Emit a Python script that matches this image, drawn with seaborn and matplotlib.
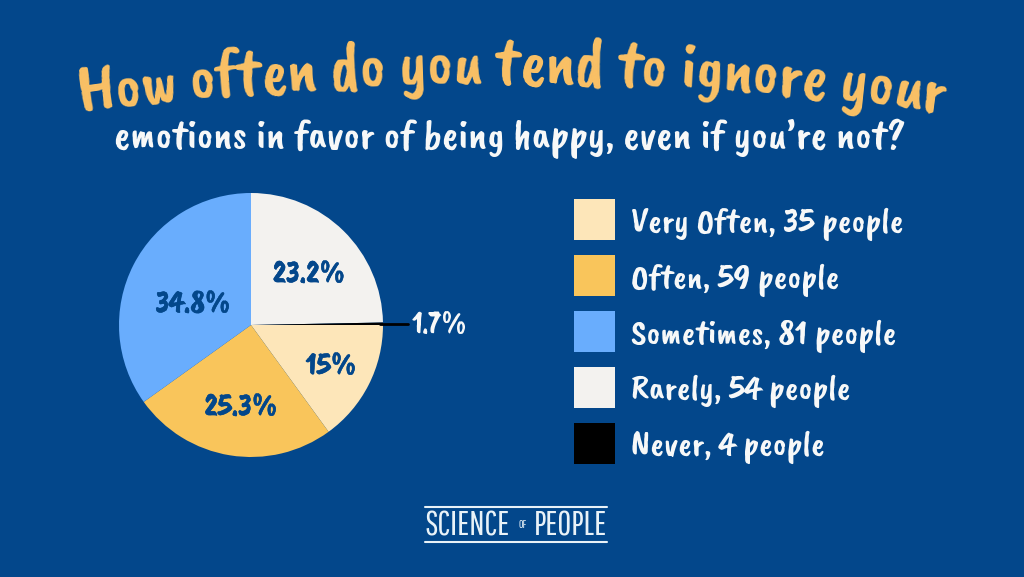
"""Pie chart recreation: how often people ignore their emotions."""
import math

import matplotlib
matplotlib.use("Agg")
import matplotlib.patheffects as pe
import matplotlib.pyplot as plt
from matplotlib.font_manager import FontProperties
from matplotlib.patches import Patch
from matplotlib.textpath import TextToPath
import seaborn as sns

CATEGORIES = ["Very Often", "Often", "Sometimes", "Rarely", "Never"]
PEOPLE = [35, 59, 81, 54, 4]
# angular shares as drawn in the reference: its Never slice is only a sliver,
# much thinner than the 1.7% printed next to it, and Rarely fills the difference
DRAWN_SHARES = [15.0, 25.1, 34.9, 24.7, 0.3]
PCT_LABELS = ["15%", "25.3%", "34.8%", "23.2%", "1.7%"]
LEGEND_LABELS = [f"{c}, {n} people" for c, n in zip(CATEGORIES, PEOPLE)]

TITLE_TOP = "How often do you tend to ignore your"
TITLE_SUB = "emotions in favor of being happy, even if you\u2019re not?"

BG = "#03478B"
GOLD = "#FBC165"
WHITE = "#F7F8F8"
SLICE_COLORS = sns.color_palette(["#FDE6B9", "#F9C55B", "#69ADFD", "#F3F2EF", "#000000"])
# brush fonts are extras seen in the sandbox, Lato / Liberation are the fallback
FONT = ["Caveat Brush", "Kalam", "Lato", "DejaVu Sans"]
LOGO_FONT = ["Pathway Gothic One", "Liberation Sans", "DejaVu Sans"]

W, H = 1024, 577


def curved_text(ax, text, size, x0, x1, y_mid, sagitta, color):
    """Place text letter by letter on an arc running from x0 to x1."""
    prop = FontProperties(family=FONT, size=size)
    ttp = TextToPath()

    def advance(s):
        # bar keeps trailing spaces in the measurement
        w_bar = ttp.get_text_width_height_descent("|", prop, False)[0]
        return ttp.get_text_width_height_descent(s + "|", prop, False)[0] - w_bar

    scale = 100 / 72
    natural = advance(text) * scale
    spacing = (x1 - x0 - natural) / (len(text) - 1)
    half = (x1 - x0) / 2
    radius = (half ** 2 + sagitta ** 2) / (2 * sagitta)
    cx = (x0 + x1) / 2
    cy = y_mid + radius
    for i, ch in enumerate(text):
        pos = advance(text[:i]) * scale + spacing * i
        theta = (pos - half) / radius
        x = cx + radius * math.sin(theta)
        y = cy - radius * math.cos(theta)
        ax.text(x, y, ch, color=color, fontproperties=prop, ha="left", va="baseline",
                rotation=-math.degrees(theta), rotation_mode="anchor")


def main():
    sns.set_theme(style="white", rc={"figure.facecolor": BG, "axes.facecolor": BG, "savefig.facecolor": BG})
    plt.rcParams["font.family"] = FONT

    fig = plt.figure(figsize=(W / 100, H / 100), dpi=100)

    # --- pie ---
    ax = fig.add_axes([119 / W, 1 - 457 / H, 264 / W, 264 / H])
    ax.pie(DRAWN_SHARES, colors=SLICE_COLORS, startangle=0, counterclock=False, radius=1,
           wedgeprops={"edgecolor": "none", "linewidth": 0})
    ax.set_xlim(-1, 1)
    ax.set_ylim(-1, 1)

    # overlay in pixel coordinates for all the text
    over = fig.add_axes([0, 0, 1, 1], zorder=3)
    over.set_xlim(0, W)
    over.set_ylim(H, 0)
    over.axis("off")

    label_xy = [(331, 367), (241, 408), (193, 305), (309, 275)]
    for label, (x, y) in zip(PCT_LABELS, label_xy):
        over.text(x, y, label, color=BG, fontsize=23, ha="center", va="center", zorder=5,
                  path_effects=[pe.withStroke(linewidth=0.4, foreground=BG)])
    over.plot([380, 408], [323.5, 323.5], color="black", lw=2, zorder=1)
    over.text(412, 326, PCT_LABELS[4], color=WHITE, fontsize=23, va="center")

    # --- titles ---
    curved_text(over, TITLE_TOP, 50, 78, 945, 83, 30, GOLD)
    over.text(510, 148, TITLE_SUB, color=WHITE, fontsize=31, ha="center", va="baseline")

    # --- legend ---
    handles = [Patch(facecolor=c, edgecolor="none") for c in SLICE_COLORS]
    fs = 26
    px = fs * 100 / 72
    box = 41 / px
    leg = over.legend(handles, LEGEND_LABELS, loc="upper left", bbox_to_anchor=(574 / W, 1 - 199 / H),
                      frameon=False, borderaxespad=0, borderpad=0, fontsize=fs, labelcolor=WHITE,
                      handlelength=box, handleheight=(box - 0.245) / 0.65, handletextpad=16 / px,
                      labelspacing=14.2 / px)
    leg.set_zorder(5)

    # --- logo ---
    logo = "#E9F2F8"
    over.plot([425, 607], [507, 507], color=logo, lw=1.5)
    over.plot([425, 607], [542, 542], color=logo, lw=1.5)
    over.text(425, 536, "SCIENCE", color=logo, fontsize=24.5, family=LOGO_FONT, va="baseline", ha="left")
    over.text(523, 528, "OF", color=logo, fontsize=8, family=LOGO_FONT, va="baseline", ha="center")
    over.text(607, 536, "PEOPLE", color=logo, fontsize=24.5, family=LOGO_FONT, va="baseline", ha="right")

    fig.savefig("out.png", dpi=100)


if __name__ == "__main__":
    main()
